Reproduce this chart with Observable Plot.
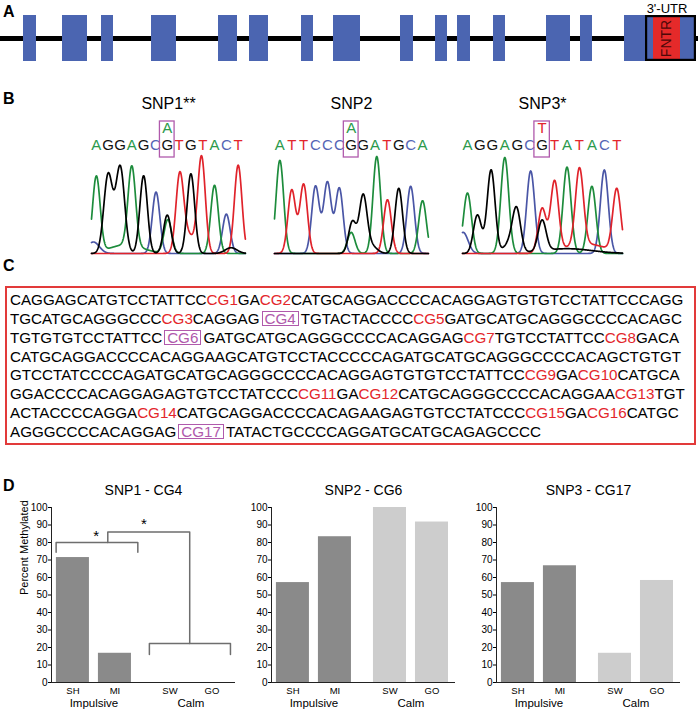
<!DOCTYPE html>
<html><head><meta charset="utf-8">
<script src="https://cdn.jsdelivr.net/npm/d3@7"></script>
<script src="https://cdn.jsdelivr.net/npm/@observablehq/plot@0.6"></script>
<style>
body{margin:0;background:#fff;}
#fig{position:relative;width:698px;height:710px;overflow:hidden;font-family:"Liberation Sans",Arial,Helvetica,sans-serif;color:#000;}
.lbl{position:absolute;left:3px;font-weight:bold;font-size:16px;line-height:16px;}
.seq{position:absolute;left:10px;font-size:15.2px;line-height:18.74px;white-space:nowrap;}
.cg{color:#e3262b;}
.bx{display:inline-block;border:1px solid #b05aac;color:#b05aac;line-height:13px;padding:0 2px;margin:0 2px;}
#seqbox{position:absolute;left:5px;top:286px;width:691px;height:159px;border:2px solid #e23a3a;box-sizing:border-box;}
svg{position:absolute;}
</style></head>
<body><div id="fig"></div>
<script>
const FONT = '"Liberation Sans", Arial, Helvetica, sans-serif';
const fig = document.getElementById("fig");

// ---------- Panel A data (positions along the gene) ----------
const exonStart = [23, 62, 101, 151, 218, 249, 301, 333, 400, 435, 457, 493, 546, 580, 624];
const exonEnd   = [36, 87, 113, 176, 237, 268, 313, 360, 413, 447, 470, 505, 570, 592, 645];
const utrSpan = [645, 696];
const fntrSpan = [653, 680];
const geneLength = 698;

// ---------- Panel B data ----------
const snpTitles = ["SNP1**", "SNP2", "SNP3*"];
const snpSeqs = ["AGGAGCGTGTACT", "ATTCCCGGATGCA", "AGGAGCGTATACT"];
const snpAlt = ["A", "A", "T"];
const snpIndex = [6, 6, 6];
// [position (base index), base, peak height, width]
const snp1Peaks = [[0,"A",79],[1,"G",82,0.37],[2.02,"G",90,0.37],[3,"A",83],[4,"G",81],[5.05,"C",64],[6,"G",40],[6.05,"A",35],[7.05,"T",75],[8,"G",83],[8.9,"T",100],[10,"A",71],[11,"C",41],[12,"T",92],
  [2.5,"A",9,1.4],[7.7,"T",20,0.55],[-0.25,"C",12,0.5],[11.4,"G",6,0.5]];
const snp2Peaks = [[0,"A",97],[1,"T",66],[2,"T",72],[3,"C",70],[4,"C",74],[5,"C",68],[6.1,"G",33],[6,"A",22],[7,"G",57],[8.15,"A",101],[9.05,"T",56],[10,"G",68],[11,"C",70],[12,"A",55],
  [7.6,"G",9,0.5]];
const snp3Peaks = [[0,"A",63],[0.8,"G",40],[1.9,"G",87],[3,"A",100],[3.95,"G",40],[5.08,"C",86],[6,"G",32],[6,"T",46],[7,"T",73],[8,"A",90],[9,"T",80],[10,"A",70],[11,"C",87],[12,"T",65],
  [-0.35,"C",22,0.4],[3.5,"G",12,0.5],[9.5,"T",10,1.6],[8,"G",5,2]];
const allPeaks = [snp1Peaks, snp2Peaks, snp3Peaks];
const traceColors = {A: "#1d8c3c", C: "#4a56a6", G: "#000000", T: "#e0232b"};
const letterColors = {A: "#2b9a4b", C: "#5566b5", G: "#111111", T: "#e3262b"};
const traceOrder = ["C", "A", "T", "G"];

// ---------- Panel C data ----------
const seqLines = [
  "CAGGAGCATGTCCTATTCC{CG1}GA{CG2}CATGCAGGACCCCACAGGAGTGTGTCCTATTCCCAGG",
  "TGCATGCAGGGCCC{CG3}CAGGAG[CG4]TGTACTACCCC{CG5}GATGCATGCAGGGCCCCACAGC",
  "TGTGTGTCCTATTCC[CG6]GATGCATGCAGGGCCCCACAGGAG{CG7}TGTCCTATTCC{CG8}GACA",
  "CATGCAGGACCCCACAGGAAGCATGTCCTACCCCCAGATGCATGCAGGGCCCCACAGCTGTGT",
  "GTCCTATCCCCAGATGCATGCAGGGCCCCACAGGAGTGTGTCCTATTCC{CG9}GA{CG10}CATGCA",
  "GGACCCCACAGGAGAGTGTCCTATCCC{CG11}GA{CG12}CATGCAGGGCCCCACAGGAA{CG13}TGT",
  "ACTACCCCAGGA{CG14}CATGCAGGACCCCACAGAAGAGTGTCCTATCCC{CG15}GA{CG16}CATGC",
  "AGGGCCCCACAGGAG[CG17]TATACTGCCCCAGGATGCATGCAGAGCCCC"
];

// ---------- Panel D data ----------
const categories = ["SH", "MI", "SW", "GO"];
const categoryGroup = ["Impulsive", "Impulsive", "Calm", "Calm"];
const groupNames = ["Impulsive", "Calm"];
const dTitles = ["SNP1 - CG4", "SNP2 - CG6", "SNP3 - CG17"];
const cg4Values = [71.4, 16.7, 0, 0];
const cg6Values = [57.1, 83.3, 100, 91.7];
const cg17Values = [57.1, 66.7, 16.7, 58.3];
// significance brackets for CG4: [left, right, y, leg end]
const cg4Brackets = [[-0.40, 1.545, 80, 74.5], [1.82, 3.75, 22.3, 16]];
const cg4Connector = [[0.83, 80], [0.83, 86], [2.78, 86], [2.78, 22.3]];
const cg4Stars = [[0.554, 83.4], [1.69, 90.6]];

// ---------- helpers ----------
function place(el, left, top) { el.style.left = left + "px"; el.style.top = top + "px"; fig.appendChild(el); return el; }
const baseStyle = {fontFamily: FONT, background: "transparent", overflow: "visible"};

// ---------- Panel labels ----------
[["A", 4.2], ["B", 90.5], ["C", 258.2], ["D", 477.5]].forEach(([t, top]) => {
  const d = document.createElement("div"); d.className = "lbl"; d.textContent = t; d.style.top = top + "px"; fig.appendChild(d);
});

// ---------- Panel A ----------
const BLUE = "#4b65b1", RED = "#e52a2a";
const exons = exonStart.map((s, i) => ({s, e: exonEnd[i]}));
const plotA = Plot.plot({
  width: 698, height: 70, marginTop: 15, marginBottom: 9, marginLeft: 0, marginRight: 0,
  x: {domain: [0, geneLength], axis: null},
  y: {domain: [0, 1], axis: null},
  style: baseStyle,
  marks: [
    Plot.ruleY([0.5], {stroke: "#000", strokeWidth: 5}),
    Plot.rect(exons, {x1: "s", x2: "e", fill: BLUE}),
    Plot.rect([utrSpan], {x1: d => d[0], x2: d => d[1], fill: BLUE}),
    Plot.rect([fntrSpan], {x1: d => d[0], x2: d => d[1], fill: RED}),
    Plot.rect([utrSpan], {x1: d => d[0], x2: d => d[1], fill: "none", stroke: "#000", strokeWidth: 2.2, inset: 1.1}),
    Plot.text(["FNTR"], {x: (fntrSpan[0] + fntrSpan[1]) / 2, y: 0.5, text: d => d, rotate: -90, fontSize: 14, fill: "#4d0808"}),
    Plot.text(["3'-UTR"], {x: (fntrSpan[0] + fntrSpan[1]) / 2, text: d => d, frameAnchor: "top", lineAnchor: "middle", dy: -7, fontSize: 13})
  ]
});
place(plotA, 0, 0);

// ---------- Panel B ----------
const chromLeft = [91, 274, 462];
const chromWidths = [154, 154, 160];
const chromDomains = [[-0.41, 12.62], [-0.45, 12.5], [-0.4, 12.46]];
function chrom(k) {
  const peaks = allPeaks[k];
  const [lo, hi] = chromDomains[k];
  const marks = [];
  for (const b of traceOrder) {
    const pts = [];
    for (let t = lo; t <= hi + 1e-9; t += 0.02) {
      let v = 0;
      for (const p of peaks) if (p[1] === b) { const s = p[3] ?? 0.32; v += p[2] * Math.exp(-0.5 * ((t - p[0]) / s) ** 2); }
      pts.push({t, v});
    }
    marks.push(Plot.line(pts, {x: "t", y: "v", stroke: traceColors[b], strokeWidth: 1.7}));
  }
  const letters = snpSeqs[k].split("").map((ch, i) => ({ch, i}));
  for (const b of "ACGT") {
    marks.push(Plot.text(letters.filter(d => d.ch === b), {x: "i", y: 112.5, text: "ch", fill: letterColors[b], fontSize: 15}));
  }
  marks.push(Plot.text([snpAlt[k]], {x: snpIndex[k], y: 130.2, text: d => d, fill: letterColors[snpAlt[k]], fontSize: 15}));
  marks.push(Plot.rect([snpIndex[k]], {x1: d => d - 0.62, x2: d => d + 0.62, y1: 100, y2: 137.5, fill: "none", stroke: "#b05aac", strokeWidth: 1.3}));
  marks.push(Plot.text([snpTitles[k]], {x: (lo + hi) / 2, y: 156.3, text: d => d, fontSize: 16}));
  return Plot.plot({
    width: chromWidths[k], height: 166, marginTop: 9.4, marginBottom: 3, marginLeft: 0, marginRight: 0,
    x: {domain: [lo, hi], axis: null},
    y: {domain: [0, 160], axis: null},
    style: baseStyle,
    marks
  });
}
[0, 1, 2].forEach(k => place(chrom(k), chromLeft[k], 90));

// ---------- Panel C ----------
const box = document.createElement("div"); box.id = "seqbox"; fig.appendChild(box);
seqLines.forEach((line, i) => {
  const d = document.createElement("div"); d.className = "seq";
  d.style.top = (300.5 - 9.18 + i * 18.74) + "px";
  d.innerHTML = line.replace(/\{(CG\d+)\}/g, '<span class="cg">$1</span>').replace(/\[(CG\d+)\]/g, '<span class="bx">$1</span>');
  fig.appendChild(d);
});

// ---------- Panel D ----------
const GROUP_GAP = 0.31, BAR_HALF = 0.393;
const pos = i => i + (categoryGroup[i] === "Calm" ? GROUP_GAP : 0);
const DARK = "#8a8a8a", LIGHT = "#cdcdcd", BRACKET = "#6e6e6e";
function barChart(k, values) {
  const rows = categories.map((c, i) => ({c, g: categoryGroup[i], v: values[i], p: pos(i)}));
  const groups = groupNames.map(g => ({g, p: d3.mean(rows.filter(r => r.g === g), r => r.p)}));
  const marks = [
    Plot.rectY(rows.filter(r => r.g === "Impulsive"), {x1: r => r.p - BAR_HALF, x2: r => r.p + BAR_HALF, y: "v", fill: DARK}),
    Plot.rectY(rows.filter(r => r.g === "Calm"), {x1: r => r.p - BAR_HALF, x2: r => r.p + BAR_HALF, y: "v", fill: LIGHT}),
    Plot.ruleX([-0.51], {stroke: "#222"}),
    Plot.ruleY([0], {stroke: "#222"}),
    Plot.text(rows, {x: "p", text: "c", frameAnchor: "bottom", lineAnchor: "middle", dy: 8.5, fontSize: 9.5}),
    Plot.text(groups, {x: "p", text: "g", frameAnchor: "bottom", lineAnchor: "middle", dy: 21, fontSize: 11.5}),
    Plot.text([dTitles[k]], {text: d => d, frameAnchor: "top", lineAnchor: "middle", dy: -17, fontSize: 14})
  ];
  if (k === 0) {
    marks.push(Plot.text(["Percent Methylated"], {text: d => d, frameAnchor: "left", lineAnchor: "middle", dx: -27, rotate: -90, fontSize: 11}));
    const bpts = [];
    cg4Brackets.forEach(([l, r, y, leg], j) => { bpts.push({j, x: l, y: leg}, {j, x: l, y}, {j, x: r, y}, {j, x: r, y: leg}); });
    cg4Connector.forEach(([x, y]) => bpts.push({j: 9, x, y}));
    marks.push(Plot.line(bpts, {x: "x", y: "y", z: "j", stroke: BRACKET, strokeWidth: 1.5}));
    marks.push(Plot.text(cg4Stars, {x: d => d[0], y: d => d[1], text: () => "*", fontSize: 15}));
  }
  return Plot.plot({
    width: 237, height: 228, marginLeft: 45, marginRight: 8, marginTop: 25, marginBottom: 28,
    x: {domain: [-0.51, 3.87], axis: null},
    y: {domain: [0, 100], ticks: 10, tickSize: 3, tickPadding: 1, label: null},
    style: {...baseStyle, fontSize: "10px"},
    marks
  });
}
const dLeft = [6, 226, 451];
[cg4Values, cg6Values, cg17Values].forEach((v, k) => place(barChart(k, v), dLeft[k], 482));
</script></body></html>
